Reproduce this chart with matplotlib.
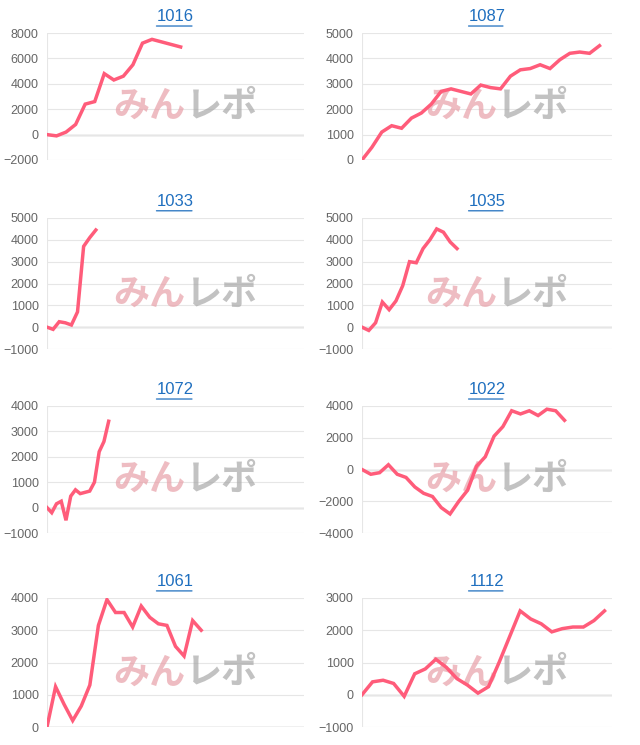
import matplotlib
matplotlib.use("Agg")
import matplotlib.pyplot as plt
import numpy as np

plt.rcParams['font.family'] = ['Liberation Sans', 'Noto Sans CJK JP', 'DejaVu Sans']

titles = ["1016", "1087", "1033", "1035", "1072", "1022", "1061", "1112"]
s1016 = [0, -100, 200, 800, 2400, 2600, 4800, 4300, 4600, 5500, 7200, 7500, 7300, 7100, 6900]
s1087 = [0, 500, 1100, 1350, 1250, 1650, 1850, 2200, 2700, 2800, 2700, 2600, 2950, 2850, 2800,
         3300, 3550, 3600, 3750, 3600, 3950, 4200, 4250, 4200, 4500]
s1033 = [0, -100, 250, 200, 100, 700, 3700, 4100, 4450]
s1035 = [0, -150, 200, 1150, 800, 1200, 1900, 3000, 2950, 3600, 4000, 4500, 4350, 3900, 3600]
s1072 = [0, -200, 150, 250, -500, 450, 700, 550, 600, 650, 1000, 2200, 2600, 3400]
s1022 = [0, -300, -200, 300, -300, -500, -1100, -1500, -1700, -2400, -2800, -2000, -1300, 200,
         800, 2100, 2700, 3700, 3500, 3700, 3400, 3800, 3700, 3100]
s1061 = [0, 1250, 700, 200, 650, 1300, 3150, 3950, 3550, 3550, 3100, 3750, 3400, 3200, 3150,
         2500, 2200, 3300, 3000]
s1112 = [0, 400, 450, 350, -50, 650, 800, 1100, 850, 500, 300, 50, 250, 1000, 1800, 2600,
         2350, 2200, 1950, 2050, 2100, 2100, 2300, 2600]
series = [s1016, s1087, s1033, s1035, s1072, s1022, s1061, s1112]
end_frac = [0.52, 0.95, 0.19, 0.38, 0.24, 0.81, 0.60, 0.97]
ylims = [(-2000, 8000, 2000), (0, 5000, 1000), (-1000, 5000, 1000), (-1000, 5000, 1000),
         (-1000, 4000, 1000), (-4000, 4000, 2000), (0, 4000, 1000), (-1000, 3000, 1000)]

fig = plt.figure(figsize=(6.4, 7.45), dpi=100)
W, H = 640, 745
xs = [(47, 304), (362, 612)]
rows = [(33, 160), (218, 349), (406, 533), (598, 727)]
for i in range(8):
    r, c = divmod(i, 2)
    x0, x1 = xs[c]
    y0, y1 = rows[r]
    ax = fig.add_axes([x0 / W, 1 - y1 / H, (x1 - x0) / W, (y1 - y0) / H])
    s = series[i]
    n = len(s)
    xmax = (n - 1) / end_frac[i]
    ax.plot(range(n), s, color="#ff5c7a", lw=2.5, zorder=3, solid_joinstyle='miter')
    lo, hi, st = ylims[i]
    ax.set_ylim(lo, hi)
    ax.set_xlim(0, xmax)
    ax.set_yticks(np.arange(lo, hi + 1, st))
    ax.set_xticks([])
    ax.grid(axis='y', color="#e6e6e6", lw=0.8)
    ax.axhline(0, color="#bbbbbb", lw=1, zorder=1)
    for sp in ax.spines.values():
        sp.set_visible(False)
    ax.axvline(0, color="#e6e6e6", lw=0.8)
    ax.tick_params(axis='y', length=0, labelsize=9, labelcolor="#666666", pad=6)
    ax.set_title(titles[i], color="#1f6fbf", fontsize=12, pad=9)
    ax.text(0.54, 0.42, "みん", transform=ax.transAxes, fontsize=26, fontweight='bold',
            style='italic', color="#e8a0a8", alpha=0.7, ha='right', va='center', zorder=2,
            family='Noto Sans CJK JP')
    ax.text(0.54, 0.42, "レポ", transform=ax.transAxes, fontsize=26, fontweight='bold',
            style='italic', color="#a8a8a8", alpha=0.7, ha='left', va='center', zorder=2,
            family='Noto Sans CJK JP')
    ax.annotate("", xy=(0.575, 1.055), xytext=(0.415, 1.055), xycoords='axes fraction',
                arrowprops=dict(arrowstyle='-', color="#1f6fbf", lw=0.9))

fig.savefig("out.png", dpi=100)
